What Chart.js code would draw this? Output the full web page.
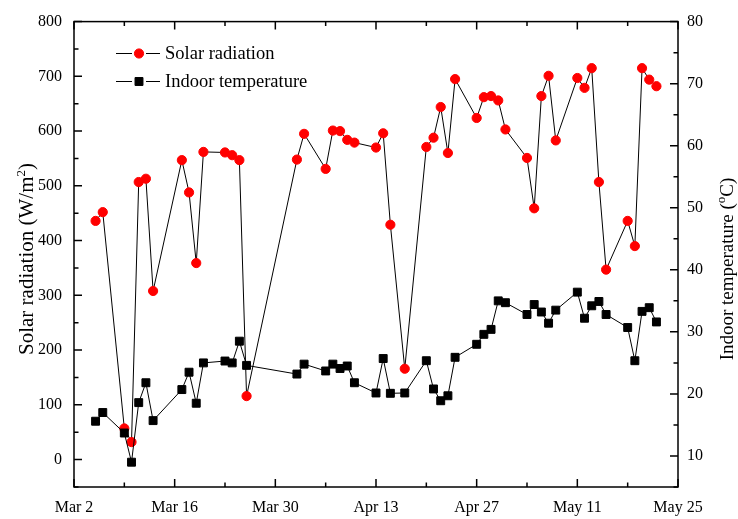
<!DOCTYPE html>
<html>
<head>
<meta charset="utf-8">
<script src="https://cdn.jsdelivr.net/npm/chart.js@4"></script>
<style>
  html, body { margin: 0; padding: 0; background: #fff; }
  #chart { display: block; }
</style>
</head>
<body>
<canvas id="chart" width="738" height="519"></canvas>
<script>
// days counted from Mar 2
const dayOffsets = [3, 4, 7, 8, 9, 10, 11, 15, 16, 17, 18, 21, 22, 23, 24, 31, 32, 35, 36, 37, 38, 39,
    42, 43, 44, 46, 49, 50, 51, 52, 53, 56, 57, 58, 59, 60, 63, 64, 65, 66, 67, 70, 71, 72, 73, 74,
    77, 78, 79, 80, 81];
const solarRadiation = [436, 452, 57, 32, 507, 513, 308, 547, 488, 359, 562, 561, 556, 547, 116, 548, 595,
    531, 601, 600, 584, 579, 570, 596, 429, 166, 571, 588, 644, 560, 695, 624, 662, 664, 656, 603,
    551, 459, 664, 701, 583, 697, 679, 715, 507, 347, 436, 390, 715, 694, 682];
const indoorTemp = [15.6, 17.0, 13.7, 9.0, 18.6, 21.8, 15.7, 20.7, 23.5, 18.5, 25.0, 25.3, 25.0, 28.5, 24.6,
    23.2, 24.8, 23.7, 24.8, 24.1, 24.5, 21.8, 20.15, 25.7, 20.1, 20.15, 25.35, 20.8, 18.9, 19.7, 25.9,
    28.0, 29.6, 30.4, 35.0, 34.7, 32.8, 34.4, 33.2, 31.4, 33.5, 36.4, 32.2, 34.2, 34.9, 32.8,
    30.7, 25.35, 33.3, 33.9, 31.6];

const xTickDays = [0, 14, 28, 42, 56, 70, 84];
const xTickLabels = ['Mar 2', 'Mar 16', 'Mar 30', 'Apr 13', 'Apr 27', 'May 11', 'May 25'];
const xMinorDays = [7, 21, 35, 49, 63, 77];
const leftTicks = [0, 100, 200, 300, 400, 500, 600, 700, 800];
const leftMinor = [-50, 50, 150, 250, 350, 450, 550, 650, 750];
const rightTicks = [10, 20, 30, 40, 50, 60, 70, 80];
const rightMinor = [5, 15, 25, 35, 45, 55, 65, 75];

const serif = '"Liberation Serif", "Times New Roman", serif';
Chart.defaults.font.family = serif;
Chart.defaults.color = '#000';

// ticks inward on all four sides, plus the frame
const frameTicks = {
    id: 'frameTicks',
    afterDraw(chart) {
        const { ctx, chartArea: a, scales } = chart;
        ctx.save();
        ctx.strokeStyle = '#000';
        ctx.lineWidth = 1.5;
        ctx.strokeRect(a.left, a.top, a.right - a.left, a.bottom - a.top);
        const vt = (x, len) => {
            ctx.moveTo(x, a.bottom); ctx.lineTo(x, a.bottom - len);
            ctx.moveTo(x, a.top); ctx.lineTo(x, a.top + len);
        };
        ctx.beginPath();
        xTickDays.forEach(d => vt(scales.x.getPixelForValue(d), 8));
        xMinorDays.forEach(d => vt(scales.x.getPixelForValue(d), 4.5));
        leftTicks.forEach(v => { const y = scales.y.getPixelForValue(v); ctx.moveTo(a.left, y); ctx.lineTo(a.left + 8, y); });
        leftMinor.forEach(v => { const y = scales.y.getPixelForValue(v); ctx.moveTo(a.left, y); ctx.lineTo(a.left + 4.5, y); });
        rightTicks.forEach(v => { const y = scales.y1.getPixelForValue(v); ctx.moveTo(a.right, y); ctx.lineTo(a.right - 8, y); });
        rightMinor.forEach(v => { const y = scales.y1.getPixelForValue(v); ctx.moveTo(a.right, y); ctx.lineTo(a.right - 4.5, y); });
        ctx.stroke();
        ctx.restore();
    }
};

// axis titles with superscripts
function drawRotated(ctx, cx, cy, parts) {
    ctx.save();
    ctx.translate(cx, cy);
    ctx.rotate(-Math.PI / 2);
    ctx.textBaseline = 'alphabetic';
    let total = 0;
    parts.forEach(p => { ctx.font = p.font; total += ctx.measureText(p.text).width; });
    let x = -total / 2;
    parts.forEach(p => {
        ctx.font = p.font;
        ctx.fillText(p.text, x, p.dy || 0);
        x += ctx.measureText(p.text).width;
    });
    ctx.restore();
}

const axisTitles = {
    id: 'axisTitles',
    afterDraw(chart) {
        const ctx = chart.ctx;
        ctx.fillStyle = '#000';
        const big = '21px ' + serif, sup = '13px ' + serif;
        drawRotated(ctx, 33, 259, [
            { text: 'Solar radiation (W/m', font: big },
            { text: '2', font: sup, dy: -8 },
            { text: ')', font: big }
        ]);
        const big2 = '19px ' + serif;
        drawRotated(ctx, 733, 269, [
            { text: 'Indoor temperature (', font: big2 },
            { text: 'o', font: sup, dy: -8 },
            { text: 'C)', font: big2 }
        ]);
    }
};

// legend inside the plot, top-left
const insideLegend = {
    id: 'insideLegend',
    afterDraw(chart) {
        const ctx = chart.ctx;
        const rows = [chart.data.datasets[1], chart.data.datasets[0]];
        rows.forEach((ds, i) => {
            const y = 53.5 + i * 28;
            ctx.save();
            ctx.strokeStyle = '#000';
            ctx.lineWidth = 1;
            ctx.beginPath();
            ctx.moveTo(116, y); ctx.lineTo(132, y);
            ctx.moveTo(146, y); ctx.lineTo(160, y);
            ctx.stroke();
            ctx.fillStyle = ds.pointBackgroundColor;
            ctx.strokeStyle = ds.pointBorderColor;
            ctx.lineWidth = 1;
            Chart.helpers.drawPoint(ctx, { pointStyle: ds.pointStyle, radius: ds.pointRadius, borderWidth: 1 }, 139, y);
            ctx.fillStyle = '#000';
            ctx.font = '18.5px ' + serif;
            ctx.textBaseline = 'middle';
            ctx.fillText(ds.label, 165, y + 1);
            ctx.restore();
        });
    }
};

new Chart(document.getElementById('chart'), {
    type: 'line',
    data: {
        datasets: [
            {
                label: 'Indoor temperature',
                data: dayOffsets.map((d, i) => ({ x: d, y: indoorTemp[i] })),
                yAxisID: 'y1',
                borderColor: '#000',
                borderWidth: 1,
                pointStyle: 'rect',
                pointRadius: 5.6,
                pointBackgroundColor: '#000',
                pointBorderColor: '#000',
                pointBorderWidth: 1,
                tension: 0
            },
            {
                label: 'Solar radiation',
                data: dayOffsets.map((d, i) => ({ x: d, y: solarRadiation[i] })),
                yAxisID: 'y',
                borderColor: '#000',
                borderWidth: 1,
                pointStyle: 'circle',
                pointRadius: 4.6,
                pointBackgroundColor: '#ff0000',
                pointBorderColor: '#ff0000',
                pointBorderWidth: 1,
                tension: 0
            }
        ]
    },
    options: {
        responsive: false,
        animation: false,
        devicePixelRatio: 1,
        layout: { padding: { top: 17, left: 0, right: 0, bottom: 0 } },
        plugins: { legend: { display: false }, tooltip: { enabled: false } },
        scales: {
            x: {
                type: 'linear',
                min: 0, max: 84,
                afterBuildTicks: s => { s.ticks = xTickDays.map(v => ({ value: v })); },
                afterFit: s => { s.height = 32; },
                grid: { display: false, drawTicks: false },
                border: { display: false },
                ticks: {
                    padding: 11,
                    maxRotation: 0,
                    autoSkip: false,
                    font: { size: 16 },
                    callback: v => xTickLabels[xTickDays.indexOf(v)]
                }
            },
            y: {
                position: 'left',
                min: -50, max: 800,
                afterBuildTicks: s => { s.ticks = leftTicks.map(v => ({ value: v })); },
                afterFit: s => { s.width = 74; },
                grid: { display: false, drawTicks: false },
                border: { display: false },
                ticks: { padding: 12, font: { size: 16 } }
            },
            y1: {
                position: 'right',
                min: 5, max: 80,
                afterBuildTicks: s => { s.ticks = rightTicks.map(v => ({ value: v })); },
                afterFit: s => { s.width = 60; },
                grid: { display: false, drawTicks: false },
                border: { display: false },
                ticks: { padding: 9, font: { size: 16 } }
            }
        }
    },
    plugins: [frameTicks, axisTitles, insideLegend]
});
</script>
</body>
</html>
